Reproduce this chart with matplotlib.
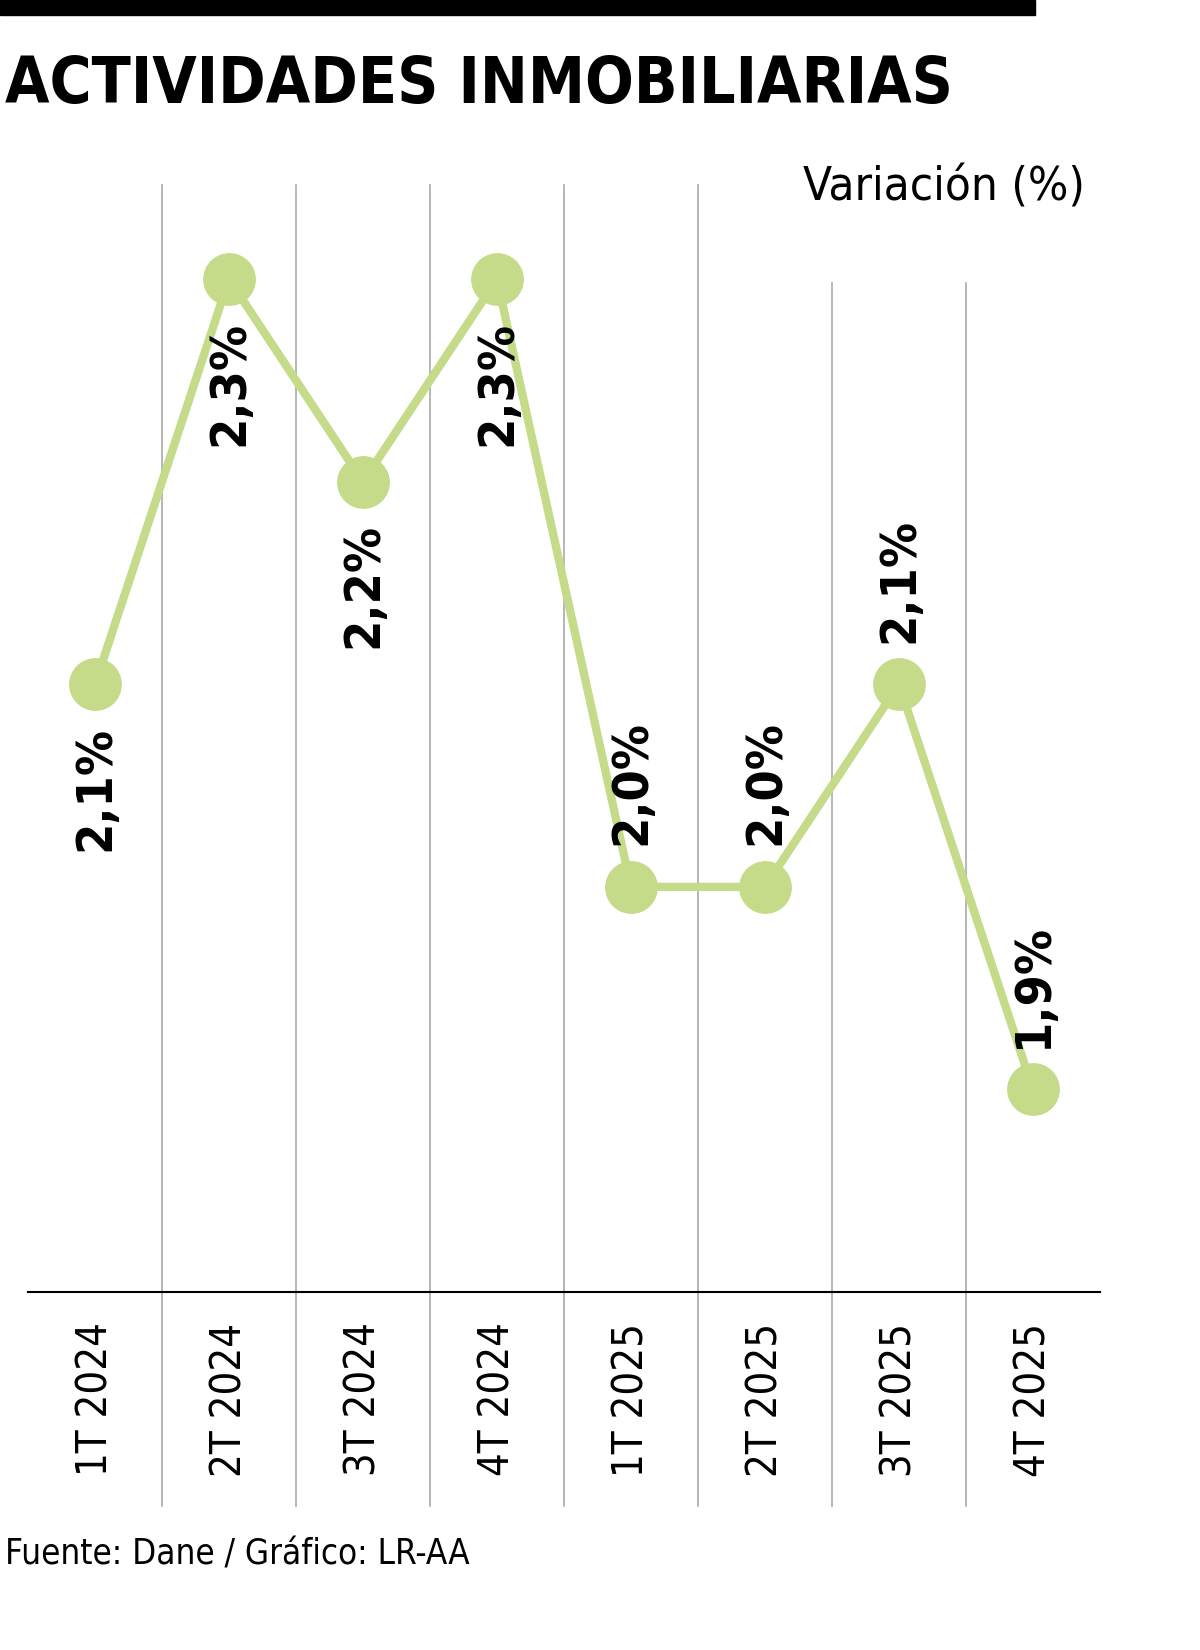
import matplotlib
matplotlib.use("Agg")
import matplotlib.pyplot as plt
from matplotlib.lines import Line2D

categories = ["1T 2024", "2T 2024", "3T 2024", "4T 2024", "1T 2025", "2T 2025", "3T 2025", "4T 2025"]
values = [2.1, 2.3, 2.2, 2.3, 2.0, 2.0, 2.1, 1.9]
labels = ["2,1%", "2,3%", "2,2%", "2,3%", "2,0%", "2,0%", "2,1%", "1,9%"]
label_above = [False, False, False, False, True, True, True, True]

W, H = 1200, 1650
fig = plt.figure(figsize=(12, 16.5), dpi=100)
narrow = ["Liberation Sans Narrow", "DejaVu Sans"]
kw = dict(family=narrow, fontstretch="condensed")

fig.add_artist(plt.Rectangle((0, 1 - 15/H), 1035/W, 15/H, transform=fig.transFigure, color="black"))
fig.text(5/W, 1 - 85/H, "ACTIVIDADES INMOBILIARIAS", fontsize=46, fontweight="bold",
         va="center", ha="left", **kw)
fig.text(1085/W, 1 - 188/H, "Variación (%)", fontsize=34, va="center", ha="right", **kw)
fig.text(5/W, 1 - 1555/H, "Fuente: Dane / Gráfico: LR-AA", fontsize=25, va="center", ha="left", **kw)

ax = fig.add_axes([28/W, 1 - 1292/H, (1100-28)/W, (1292-185)/H])
ax.set_xlim(-0.5, 7.5)
ax.set_ylim(1.8, 2.3465)
for s in ["top", "right", "left"]:
    ax.spines[s].set_visible(False)
ax.spines["bottom"].set_linewidth(1.5)
ax.set_yticks([])
ax.set_xticks(range(len(categories)))
ax.set_xticklabels(categories, rotation=90, fontsize=30, va="top", **kw)
ax.tick_params(axis="x", length=0, pad=22)

for i in range(7):
    top = 2.298 if i >= 5 else 2.3465
    ax.add_line(Line2D([i + 0.5, i + 0.5], [1.6946, top], color="#aaaaaa", lw=1.2, clip_on=False, zorder=0))

x = list(range(len(values)))
ax.plot(x, values, color="#c5db8a", lw=6, marker="o", markersize=37, zorder=3)
for xi, v, lab, up in zip(x, values, labels, label_above):
    ax.annotate(lab, (xi, v), xytext=(0, 30 if up else -30), textcoords="offset points",
                rotation=90, ha="center", va="bottom" if up else "top",
                fontsize=36, fontweight="bold", zorder=4, **kw)

fig.savefig("out.png", dpi=100)
